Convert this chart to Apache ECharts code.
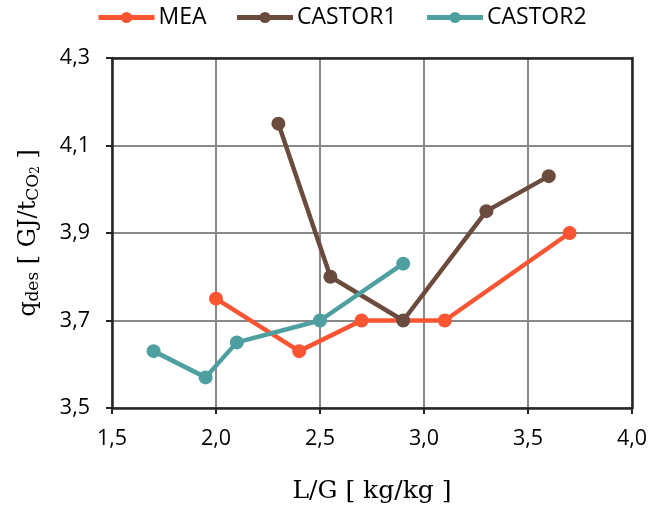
<!DOCTYPE html>
<html><head><meta charset="utf-8">
<script src="https://cdn.jsdelivr.net/npm/echarts@6/dist/echarts.min.js"></script>
<style>html,body{margin:0;padding:0;background:#fff}#c{width:649px;height:506px}</style>
</head><body><div id="c"></div>
<script>
var seriesNames = ['MEA', 'CASTOR1', 'CASTOR2'];
var meaX = [2.0, 2.4, 2.7, 3.1, 3.7];
var meaY = [3.75, 3.63, 3.70, 3.70, 3.90];
var castor1X = [2.3, 2.55, 2.9, 3.3, 3.6];
var castor1Y = [4.15, 3.80, 3.70, 3.95, 4.03];
var castor2X = [1.7, 1.95, 2.1, 2.5, 2.9];
var castor2Y = [3.63, 3.57, 3.65, 3.70, 3.83];
var colors = ['#FA5533', '#6B4B3E', '#4E9FA0'];

function pairs(xs, ys){ return xs.map(function(x,i){ return [x, ys[i]]; }); }
function fmt(v){ return v.toFixed(1).replace('.', ','); }

var chart = echarts.init(document.getElementById('c'));
var data = [pairs(meaX, meaY), pairs(castor1X, castor1Y), pairs(castor2X, castor2Y)];
var borderAxis = {
  axisLine: {show: true, lineStyle: {color: '#262626', width: 2.5}},
  axisTick: {show: false}, axisLabel: {show: false}, splitLine: {show: false}
};
chart.setOption({
  animation: false,
  legend: {
    top: 6, left: 96, itemWidth: 56, itemHeight: 14, itemGap: 28, padding: 0,
    textStyle: {fontFamily: 'Open Sans', fontSize: 23, color: '#000', padding: [0,0,0,-1]},
    lineStyle: {width: 5},
    data: seriesNames
  },
  grid: {left: 112, right: 17, top: 58, bottom: 98, outerBoundsMode: 'none', containLabel: false},
  xAxis: [{
    type: 'value', min: 1.5, max: 4.0, interval: 0.5,
    name: 'L/G [ kg/kg ]', nameLocation: 'middle', nameGap: 71,
    nameTextStyle: {fontFamily: 'DejaVu Serif', fontSize: 25, color: '#000'},
    axisLine: {show: true, lineStyle: {color: '#262626', width: 2.5}},
    axisTick: {show: true, length: 6, lineStyle: {color: '#262626', width: 2}},
    axisLabel: {formatter: fmt, fontFamily: 'Open Sans', fontSize: 21.5, color: '#000', margin: 20},
    splitLine: {show: true, lineStyle: {color: '#888', width: 2}}
  }, Object.assign({type: 'value', position: 'top', min: 1.5, max: 4.0}, borderAxis)],
  yAxis: [{
    type: 'value', min: 3.5, max: 4.3, interval: 0.2,
    name: '{a|q}{s|des}{a| [ GJ/t}{s|CO}{ss|2}{a| ]}', nameLocation: 'middle', nameGap: 70, nameRotate: 90,
    nameTextStyle: {
      rich: {
        a: {fontFamily: 'DejaVu Serif', fontSize: 24, color: '#000'},
        s: {fontFamily: 'DejaVu Serif', fontSize: 17, color: '#000', padding: [10,0,0,0]},
        ss: {fontFamily: 'DejaVu Serif', fontSize: 12, color: '#000', padding: [14,0,0,0]}
      }
    },
    axisLine: {show: true, lineStyle: {color: '#262626', width: 2.5}},
    axisTick: {show: true, length: 6, lineStyle: {color: '#262626', width: 2}},
    axisLabel: {formatter: fmt, fontFamily: 'Open Sans', fontSize: 21.5, color: '#000', margin: 22},
    splitLine: {show: true, lineStyle: {color: '#888', width: 2}}
  }, Object.assign({type: 'value', position: 'right', min: 3.5, max: 4.3}, borderAxis)],
  series: seriesNames.map(function(n, i){
    return {
      name: n, type: 'line', data: data[i], symbol: 'circle', symbolSize: 14,
      lineStyle: {color: colors[i], width: 4.5},
      itemStyle: {color: colors[i]}
    };
  })
});
</script></body></html>
